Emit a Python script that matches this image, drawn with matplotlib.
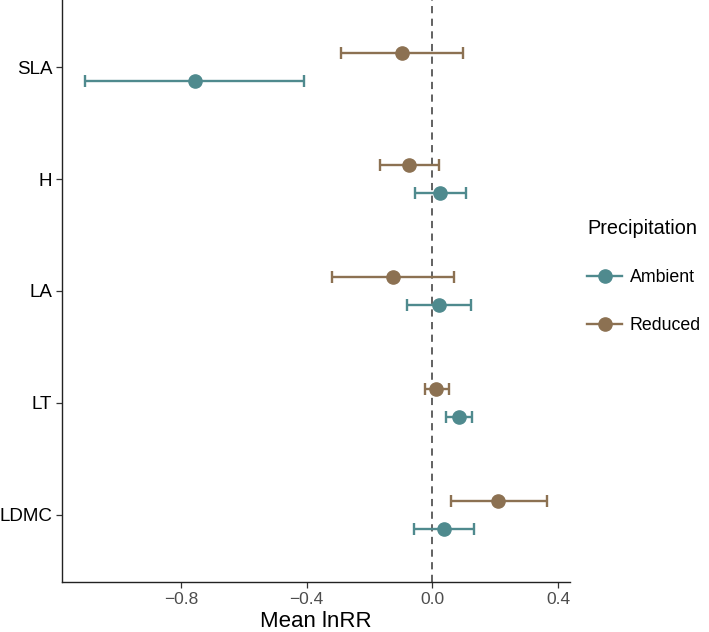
import matplotlib
matplotlib.use("Agg")
import matplotlib.pyplot as plt
from matplotlib.lines import Line2D

plt.rcParams['font.family'] = ['Liberation Sans', 'DejaVu Sans']

traits = ["LDMC", "LT", "LA", "H", "SLA"]
ambient_mean = [0.037, 0.085, 0.022, 0.024, -0.756]
ambient_lo = [-0.058, 0.045, -0.080, -0.056, -1.106]
ambient_hi = [0.132, 0.127, 0.122, 0.106, -0.408]
reduced_mean = [0.210, 0.013, -0.125, -0.074, -0.095]
reduced_lo = [0.058, -0.024, -0.318, -0.165, -0.289]
reduced_hi = [0.366, 0.053, 0.068, 0.022, 0.099]
x_ticks = [-0.8, -0.4, 0.0, 0.4]
x_ticklabels = ["\u22120.8", "\u22120.4", "0.0", "0.4"]

col_amb = "#4F8A8E"
col_red = "#8C7152"

fig = plt.figure(figsize=(7.09, 6.32), dpi=100)
ax = fig.add_axes([62/709, 1-582/632, (570-62)/709, 582/632])

ax.axvline(0, color="#555555", linestyle=(0, (4, 3)), linewidth=1.3, zorder=1)

dodge = 0.125
for means, lo, hi, col, off in [(ambient_mean, ambient_lo, ambient_hi, col_amb, -dodge),
                                (reduced_mean, reduced_lo, reduced_hi, col_red, dodge)]:
    ys = [i + off for i in range(len(traits))]
    xerr = [[m - l for m, l in zip(means, lo)], [h - m for m, h in zip(means, hi)]]
    ax.errorbar(means, ys, xerr=xerr, fmt='o', color=col, ecolor=col,
                elinewidth=1.7, capsize=4, capthick=1.7, markersize=9.5, zorder=3)

ax.set_xlim(-1.178, 0.438)
ax.set_ylim(-0.6, len(traits) - 0.4)
ax.set_yticks(range(len(traits)))
ax.set_yticklabels(traits, fontsize=13.5, color="black")
ax.set_xticks(x_ticks)
ax.set_xticklabels(x_ticklabels, fontsize=12.5, color="#4D4D4D")
ax.set_xlabel("Mean lnRR", fontsize=16, labelpad=3)
for s in ["top", "right"]:
    ax.spines[s].set_visible(False)
for s in ["left", "bottom"]:
    ax.spines[s].set_color("#222222")
    ax.spines[s].set_linewidth(1.0)
ax.tick_params(axis='both', length=4, color="#333333", width=0.9, pad=3)

handles = [Line2D([0], [0], color=col_amb, marker='o', markersize=9.5, linewidth=1.7),
           Line2D([0], [0], color=col_red, marker='o', markersize=9.5, linewidth=1.7)]
leg = fig.legend(handles, ["Ambient", "Reduced"], title="Precipitation",
                 loc='upper left', bbox_to_anchor=(578/709, 1-210/632),
                 frameon=False, fontsize=12.8, title_fontsize=14.3, borderpad=0,
                 labelspacing=1.75, handlelength=2.0, handletextpad=0.4)
leg._legend_box.align = "left"

fig.savefig("out.png", dpi=100)
